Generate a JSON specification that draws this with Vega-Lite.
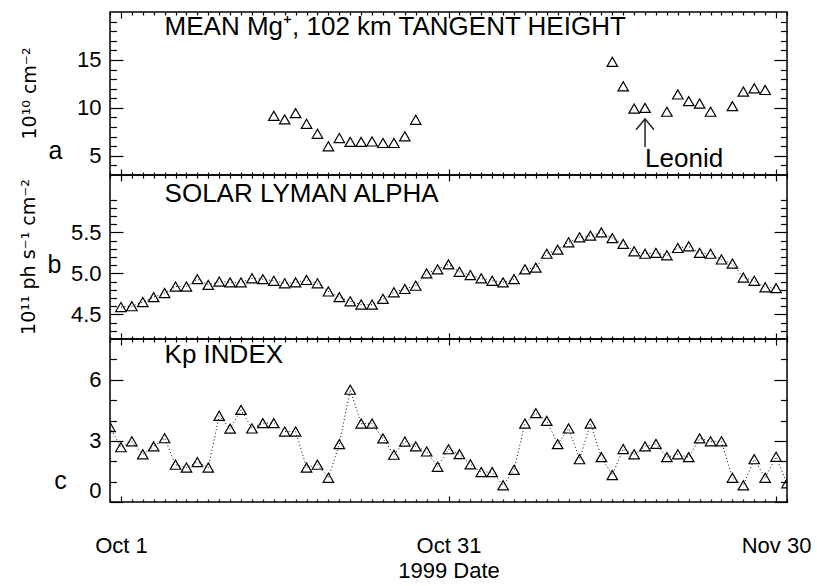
{
  "$schema": "https://vega.github.io/schema/vega-lite/v6.json",
  "padding": {"left": 19, "top": 9, "right": 0, "bottom": 0},
  "config": {
    "font": "Liberation Sans",
    "view": {"stroke": "black", "strokeWidth": 1.5},
    "axis": {
      "domain": false, "grid": false, "tickColor": "black", "tickWidth": 1.2,
      "labelColor": "black", "labelFontSize": 22, "labelOverlap": false, "labelFlush": false,
      "titleColor": "black", "titleFontWeight": "normal", "titleFontSize": 25
    },
    "title": {"color": "black", "fontWeight": "normal"}
  },
  "datasets": {
    "mg": [
      {"date": "1999-10-15", "mg": 9.17}, {"date": "1999-10-16", "mg": 8.8}, {"date": "1999-10-17", "mg": 9.45},
      {"date": "1999-10-18", "mg": 8.34}, {"date": "1999-10-19", "mg": 7.3}, {"date": "1999-10-20", "mg": 6.0},
      {"date": "1999-10-21", "mg": 6.86}, {"date": "1999-10-22", "mg": 6.45}, {"date": "1999-10-23", "mg": 6.45},
      {"date": "1999-10-24", "mg": 6.5}, {"date": "1999-10-25", "mg": 6.34}, {"date": "1999-10-26", "mg": 6.34},
      {"date": "1999-10-27", "mg": 7.03}, {"date": "1999-10-28", "mg": 8.76},
      {"date": "1999-11-15", "mg": 14.8}, {"date": "1999-11-16", "mg": 12.25}, {"date": "1999-11-17", "mg": 9.93},
      {"date": "1999-11-18", "mg": 10.0}, {"date": "1999-11-20", "mg": 9.6}, {"date": "1999-11-21", "mg": 11.4},
      {"date": "1999-11-22", "mg": 10.7}, {"date": "1999-11-23", "mg": 10.45}, {"date": "1999-11-24", "mg": 9.6},
      {"date": "1999-11-26", "mg": 10.18}, {"date": "1999-11-27", "mg": 11.7}, {"date": "1999-11-28", "mg": 12.04},
      {"date": "1999-11-29", "mg": 11.87}
    ],
    "lya": [
      {"date": "1999-10-01", "lya": 4.59}, {"date": "1999-10-02", "lya": 4.60}, {"date": "1999-10-03", "lya": 4.65},
      {"date": "1999-10-04", "lya": 4.71}, {"date": "1999-10-05", "lya": 4.76}, {"date": "1999-10-06", "lya": 4.84},
      {"date": "1999-10-07", "lya": 4.84}, {"date": "1999-10-08", "lya": 4.93}, {"date": "1999-10-09", "lya": 4.86},
      {"date": "1999-10-10", "lya": 4.90}, {"date": "1999-10-11", "lya": 4.89}, {"date": "1999-10-12", "lya": 4.89},
      {"date": "1999-10-13", "lya": 4.94}, {"date": "1999-10-14", "lya": 4.93}, {"date": "1999-10-15", "lya": 4.91},
      {"date": "1999-10-16", "lya": 4.88}, {"date": "1999-10-17", "lya": 4.89}, {"date": "1999-10-18", "lya": 4.92},
      {"date": "1999-10-19", "lya": 4.88}, {"date": "1999-10-20", "lya": 4.78}, {"date": "1999-10-21", "lya": 4.71},
      {"date": "1999-10-22", "lya": 4.66}, {"date": "1999-10-23", "lya": 4.62}, {"date": "1999-10-24", "lya": 4.62},
      {"date": "1999-10-25", "lya": 4.69}, {"date": "1999-10-26", "lya": 4.77}, {"date": "1999-10-27", "lya": 4.81},
      {"date": "1999-10-28", "lya": 4.85}, {"date": "1999-10-29", "lya": 5.00}, {"date": "1999-10-30", "lya": 5.05},
      {"date": "1999-10-31", "lya": 5.11}, {"date": "1999-11-01", "lya": 5.02}, {"date": "1999-11-02", "lya": 4.98},
      {"date": "1999-11-03", "lya": 4.94}, {"date": "1999-11-04", "lya": 4.91}, {"date": "1999-11-05", "lya": 4.89},
      {"date": "1999-11-06", "lya": 4.93}, {"date": "1999-11-07", "lya": 5.05}, {"date": "1999-11-08", "lya": 5.07},
      {"date": "1999-11-09", "lya": 5.24}, {"date": "1999-11-10", "lya": 5.29}, {"date": "1999-11-11", "lya": 5.38},
      {"date": "1999-11-12", "lya": 5.44}, {"date": "1999-11-13", "lya": 5.46}, {"date": "1999-11-14", "lya": 5.50},
      {"date": "1999-11-15", "lya": 5.43}, {"date": "1999-11-16", "lya": 5.36}, {"date": "1999-11-17", "lya": 5.27},
      {"date": "1999-11-18", "lya": 5.24}, {"date": "1999-11-19", "lya": 5.25}, {"date": "1999-11-20", "lya": 5.22},
      {"date": "1999-11-21", "lya": 5.31}, {"date": "1999-11-22", "lya": 5.33}, {"date": "1999-11-23", "lya": 5.25},
      {"date": "1999-11-24", "lya": 5.24}, {"date": "1999-11-25", "lya": 5.17}, {"date": "1999-11-26", "lya": 5.12},
      {"date": "1999-11-27", "lya": 4.95}, {"date": "1999-11-28", "lya": 4.91}, {"date": "1999-11-29", "lya": 4.83},
      {"date": "1999-11-30", "lya": 4.82}
    ],
    "kp": [
      {"date": "1999-09-30", "kp": 3.68}, {"date": "1999-10-01", "kp": 2.69}, {"date": "1999-10-02", "kp": 2.98},
      {"date": "1999-10-03", "kp": 2.34}, {"date": "1999-10-04", "kp": 2.73}, {"date": "1999-10-05", "kp": 3.13},
      {"date": "1999-10-06", "kp": 1.83}, {"date": "1999-10-07", "kp": 1.69}, {"date": "1999-10-08", "kp": 1.96},
      {"date": "1999-10-09", "kp": 1.69}, {"date": "1999-10-10", "kp": 4.23}, {"date": "1999-10-11", "kp": 3.60},
      {"date": "1999-10-12", "kp": 4.52}, {"date": "1999-10-13", "kp": 3.61}, {"date": "1999-10-14", "kp": 3.87},
      {"date": "1999-10-15", "kp": 3.87}, {"date": "1999-10-16", "kp": 3.46}, {"date": "1999-10-17", "kp": 3.46},
      {"date": "1999-10-18", "kp": 1.69}, {"date": "1999-10-19", "kp": 1.83}, {"date": "1999-10-20", "kp": 1.19},
      {"date": "1999-10-21", "kp": 2.84}, {"date": "1999-10-22", "kp": 5.51}, {"date": "1999-10-23", "kp": 3.85},
      {"date": "1999-10-24", "kp": 3.85}, {"date": "1999-10-25", "kp": 3.12}, {"date": "1999-10-26", "kp": 2.32},
      {"date": "1999-10-27", "kp": 2.97}, {"date": "1999-10-28", "kp": 2.73}, {"date": "1999-10-29", "kp": 2.48},
      {"date": "1999-10-30", "kp": 1.73}, {"date": "1999-10-31", "kp": 2.59}, {"date": "1999-11-01", "kp": 2.35},
      {"date": "1999-11-02", "kp": 1.85}, {"date": "1999-11-03", "kp": 1.47}, {"date": "1999-11-04", "kp": 1.47},
      {"date": "1999-11-05", "kp": 0.82}, {"date": "1999-11-06", "kp": 1.58}, {"date": "1999-11-07", "kp": 3.85},
      {"date": "1999-11-08", "kp": 4.36}, {"date": "1999-11-09", "kp": 3.98}, {"date": "1999-11-10", "kp": 2.84},
      {"date": "1999-11-11", "kp": 3.61}, {"date": "1999-11-12", "kp": 2.10}, {"date": "1999-11-13", "kp": 3.85},
      {"date": "1999-11-14", "kp": 2.20}, {"date": "1999-11-15", "kp": 1.32}, {"date": "1999-11-16", "kp": 2.60},
      {"date": "1999-11-17", "kp": 2.34}, {"date": "1999-11-18", "kp": 2.73}, {"date": "1999-11-19", "kp": 2.85},
      {"date": "1999-11-20", "kp": 2.20}, {"date": "1999-11-21", "kp": 2.34}, {"date": "1999-11-22", "kp": 2.20},
      {"date": "1999-11-23", "kp": 3.12}, {"date": "1999-11-24", "kp": 2.98}, {"date": "1999-11-25", "kp": 2.98},
      {"date": "1999-11-26", "kp": 1.19}, {"date": "1999-11-27", "kp": 0.82}, {"date": "1999-11-28", "kp": 2.10},
      {"date": "1999-11-29", "kp": 1.19}, {"date": "1999-11-30", "kp": 2.22}, {"date": "1999-12-01", "kp": 0.92}
    ]
  },
  "spacing": 0,
  "bounds": "flush",
  "vconcat": [
    {
      "width": 677,
      "height": 163,
      "title": {"text": "10¹⁰ cm⁻²", "orient": "left", "frame": "group", "anchor": "middle", "font": "DejaVu Sans", "fontSize": 19, "offset": 8},
      "resolve": {"axis": {"x": "independent", "y": "independent"}},
      "layer": [
        {
          "data": {"name": "mg"},
          "mark": {"type": "point", "shape": "triangle-up", "filled": false, "size": 110, "color": "black", "strokeWidth": 1.2, "opacity": 1},
          "encoding": {
            "x": {
              "field": "date", "type": "temporal",
              "scale": {"type": "utc", "domain": [{"year": 1999, "month": 9, "date": 30, "utc": true}, {"year": 1999, "month": 12, "date": 1, "utc": true}]},
              "axis": {
                "orient": "bottom", "tickCount": {"interval": "day", "step": 1}, "labels": false, "title": null,
                "tickSize": {"condition": {"test": "indexof([utc(1999,9,1),utc(1999,9,31),utc(1999,10,30)], time(datum.value)) >= 0", "value": -6}, "value": -3}
              }
            },
            "y": {
              "field": "mg", "type": "quantitative",
              "scale": {"domain": [3, 20], "nice": false, "zero": false},
              "axis": {
                "orient": "left", "values": [4, 5, 6, 7, 8, 9, 10, 11, 12, 13, 14, 15, 16, 17, 18, 19],
                "tickSize": {"condition": {"test": "datum.value % 5 === 0", "value": -13}, "value": -6.5},
                "labelExpr": "datum.value % 5 === 0 ? datum.label : ''", "labelPadding": 22,
                "title": "a", "titleAngle": 0, "titleX": -55, "titleY": 146.5, "titleAlign": "center", "titleBaseline": "alphabetic"
              }
            }
          }
        },
        {
          "data": {"values": [{}]},
          "mark": {"type": "rule", "color": "#222", "strokeWidth": 1.5},
          "encoding": {
            "x": {
              "datum": {"year": 1999, "month": 11, "date": 18, "utc": true}, "type": "temporal",
              "axis": {
                "orient": "top", "tickCount": {"interval": "day", "step": 1}, "labels": false, "title": null,
                "tickSize": {"condition": {"test": "indexof([utc(1999,9,1),utc(1999,9,31),utc(1999,10,30)], time(datum.value)) >= 0", "value": -6}, "value": -3}
              }
            },
            "y": {
              "datum": 5.92, "type": "quantitative",
              "axis": {
                "orient": "right", "values": [4, 5, 6, 7, 8, 9, 10, 11, 12, 13, 14, 15, 16, 17, 18, 19],
                "tickSize": {"condition": {"test": "datum.value % 5 === 0", "value": -13}, "value": -6.5},
                "labels": false, "title": null
              }
            },
            "y2": {"datum": 8.84}
          }
        },
        {
          "data": {"values": [{}]},
          "mark": {"type": "point", "shape": "M-1,1.19L0,0L1,1.19", "filled": false, "size": 324, "color": "#222", "strokeWidth": 1.5, "opacity": 1},
          "encoding": {
            "x": {"datum": {"year": 1999, "month": 11, "date": 18, "utc": true}, "type": "temporal", "axis": null},
            "y": {"datum": 8.84, "type": "quantitative", "axis": null}
          }
        },
        {
          "data": {"values": [{}]},
          "mark": {"type": "text", "text": "Leonid", "align": "left", "baseline": "alphabetic", "fontSize": 26, "color": "black"},
          "encoding": {
            "x": {"datum": {"year": 1999, "month": 11, "date": 18, "utc": true}, "type": "temporal", "axis": null},
            "y": {"datum": 3.84, "type": "quantitative", "axis": null}
          }
        },
        {
          "data": {"values": [{}]},
          "mark": {"type": "text", "text": "MEAN Mg⁺, 102 km TANGENT HEIGHT", "align": "left", "baseline": "alphabetic", "fontSize": 26, "color": "black"},
          "encoding": {
            "x": {"datum": {"year": 1999, "month": 10, "date": 5, "utc": true}, "type": "temporal", "axis": null},
            "y": {"datum": 17.6, "type": "quantitative", "axis": null}
          }
        }
      ]
    },
    {
      "width": 677,
      "height": 164,
      "title": {"text": "10¹¹ ph s⁻¹ cm⁻²", "orient": "left", "frame": "group", "anchor": "middle", "font": "DejaVu Sans", "fontSize": 19, "offset": 8},
      "resolve": {"axis": {"x": "independent", "y": "independent"}},
      "layer": [
        {
          "data": {"name": "lya"},
          "mark": {"type": "line", "color": "black", "strokeWidth": 1, "strokeDash": [1, 2.5]},
          "encoding": {
            "x": {
              "field": "date", "type": "temporal",
              "scale": {"type": "utc", "domain": [{"year": 1999, "month": 9, "date": 30, "utc": true}, {"year": 1999, "month": 12, "date": 1, "utc": true}]},
              "axis": {
                "orient": "top", "tickCount": {"interval": "day", "step": 1}, "labels": false, "title": null,
                "tickSize": {"condition": {"test": "indexof([utc(1999,9,1),utc(1999,9,31),utc(1999,10,30)], time(datum.value)) >= 0", "value": -6}, "value": -3}
              }
            },
            "y": {
              "field": "lya", "type": "quantitative",
              "scale": {"domain": [4.2, 6.2], "nice": false, "zero": false},
              "axis": {
                "orient": "right", "values": [4.3, 4.4, 4.5, 4.6, 4.7, 4.8, 4.9, 5.0, 5.1, 5.2, 5.3, 5.4, 5.5, 5.6, 5.7, 5.8, 5.9],
                "tickSize": {"condition": {"test": "abs(datum.value * 2 - round(datum.value * 2)) < 0.001", "value": -13}, "value": -6.5},
                "labels": false, "title": null
              }
            }
          }
        },
        {
          "data": {"name": "lya"},
          "mark": {"type": "point", "shape": "triangle-up", "filled": false, "size": 110, "color": "black", "strokeWidth": 1.2, "opacity": 1},
          "encoding": {
            "x": {
              "field": "date", "type": "temporal",
              "axis": {
                "orient": "bottom", "tickCount": {"interval": "day", "step": 1}, "labels": false, "title": null,
                "tickSize": {"condition": {"test": "indexof([utc(1999,9,1),utc(1999,9,31),utc(1999,10,30)], time(datum.value)) >= 0", "value": -6}, "value": -3}
              }
            },
            "y": {
              "field": "lya", "type": "quantitative",
              "axis": {
                "orient": "left", "values": [4.3, 4.4, 4.5, 4.6, 4.7, 4.8, 4.9, 5.0, 5.1, 5.2, 5.3, 5.4, 5.5, 5.6, 5.7, 5.8, 5.9],
                "tickSize": {"condition": {"test": "abs(datum.value * 2 - round(datum.value * 2)) < 0.001", "value": -13}, "value": -6.5},
                "format": ".1f",
                "labelExpr": "abs(datum.value * 2 - round(datum.value * 2)) < 0.001 ? datum.label : ''", "labelPadding": 22,
                "title": "b", "titleAngle": 0, "titleX": -56, "titleY": 97, "titleAlign": "center", "titleBaseline": "alphabetic"
              }
            }
          }
        },
        {
          "data": {"values": [{}]},
          "mark": {"type": "text", "text": "SOLAR LYMAN ALPHA", "align": "left", "baseline": "alphabetic", "fontSize": 26, "color": "black"},
          "encoding": {
            "x": {"datum": {"year": 1999, "month": 10, "date": 5, "utc": true}, "type": "temporal", "axis": null},
            "y": {"datum": 5.87, "type": "quantitative", "axis": null}
          }
        }
      ]
    },
    {
      "width": 677,
      "height": 163,
      "resolve": {"axis": {"x": "independent", "y": "independent"}},
      "layer": [
        {
          "data": {"name": "kp"},
          "mark": {"type": "line", "color": "black", "strokeWidth": 1, "strokeDash": [1, 2.5], "clip": true},
          "encoding": {
            "x": {
              "field": "date", "type": "temporal",
              "scale": {"type": "utc", "domain": [{"year": 1999, "month": 9, "date": 30, "utc": true}, {"year": 1999, "month": 12, "date": 1, "utc": true}]},
              "axis": {
                "orient": "top", "tickCount": {"interval": "day", "step": 1}, "labels": false, "title": null,
                "tickSize": {"condition": {"test": "indexof([utc(1999,9,1),utc(1999,9,31),utc(1999,10,30)], time(datum.value)) >= 0", "value": -6}, "value": -3}
              }
            },
            "y": {
              "field": "kp", "type": "quantitative",
              "scale": {"domain": [0, 8], "nice": false},
              "axis": {
                "orient": "right", "values": [0, 1, 2, 3, 4, 5, 6, 7],
                "tickSize": {"condition": {"test": "datum.value % 3 === 0", "value": -13}, "value": -6.5},
                "labels": false, "title": null
              }
            }
          }
        },
        {
          "data": {"name": "kp"},
          "mark": {"type": "point", "shape": "triangle-up", "filled": false, "size": 110, "color": "black", "strokeWidth": 1.2, "opacity": 1, "clip": true},
          "encoding": {
            "x": {
              "field": "date", "type": "temporal",
              "axis": {
                "orient": "bottom", "tickCount": {"interval": "day", "step": 1},
                "tickSize": {"condition": {"test": "indexof([utc(1999,9,1),utc(1999,9,31),utc(1999,10,30)], time(datum.value)) >= 0", "value": -6}, "value": -3},
                "labelExpr": "indexof([utc(1999,9,1),utc(1999,9,31),utc(1999,10,30)], time(datum.value)) >= 0 ? utcFormat(datum.value, '%b %-d') : ''",
                "labelPadding": 39, "labelFontSize": 22,
                "title": "1999 Date", "titleFontSize": 22, "titlePadding": 1
              }
            },
            "y": {
              "field": "kp", "type": "quantitative",
              "axis": {
                "orient": "left", "values": [0, 1, 2, 3, 4, 5, 6, 7],
                "tickSize": {"condition": {"test": "datum.value % 3 === 0", "value": -13}, "value": -6.5},
                "labelExpr": "datum.value % 3 === 0 ? datum.label : ''", "labelPadding": 22, "labelFlush": true,
                "title": "c", "titleAngle": 0, "titleX": -50, "titleY": 149.7, "titleAlign": "center", "titleBaseline": "alphabetic"
              }
            }
          }
        },
        {
          "data": {"values": [{}]},
          "mark": {"type": "text", "text": "Kp INDEX", "align": "left", "baseline": "alphabetic", "fontSize": 26, "color": "black"},
          "encoding": {
            "x": {"datum": {"year": 1999, "month": 10, "date": 5, "utc": true}, "type": "temporal", "axis": null},
            "y": {"datum": 6.84, "type": "quantitative", "axis": null}
          }
        }
      ]
    }
  ]
}
